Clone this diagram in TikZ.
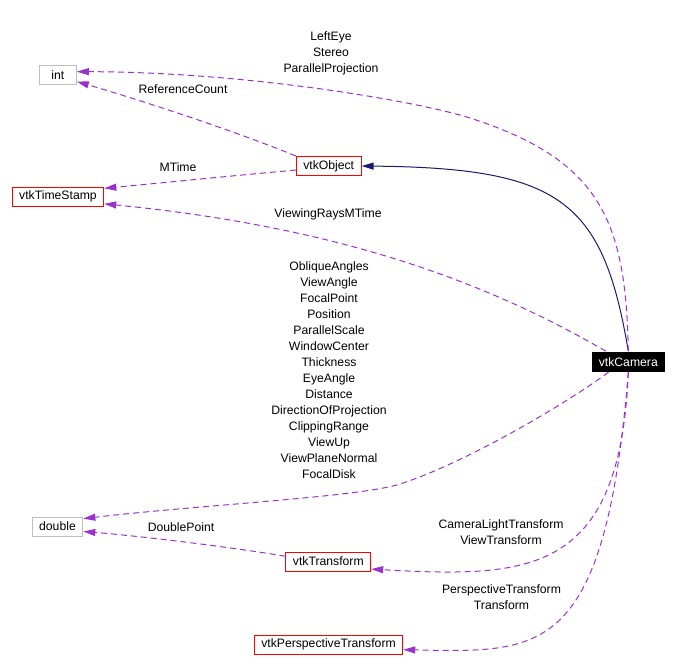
\documentclass[tikz,border=0pt]{standalone}
\usepackage{fontspec}
\setmainfont{Liberation Sans}
\usetikzlibrary{arrows.meta}
\definecolor{usepurple}{HTML}{9A32CD}
\definecolor{basenavy}{HTML}{191970}
\definecolor{boxgray}{HTML}{BFBFBF}
\begin{document}
\begin{tikzpicture}[
	x=1bp, y=-1bp,
	every node/.style={font=\fontsize{12.2bp}{16bp}\selectfont, text=black},
	cls/.style={draw=red, line width=1bp, minimum height=19bp, inner xsep=7bp, inner ysep=0pt},
	plain/.style={cls, draw=boxgray},
	focus/.style={cls, draw=none, fill=black, text=white, minimum height=20bp},
	lbl/.style={align=center, inner sep=0pt},
	uses/.style={draw=usepurple, line width=1bp, dash pattern=on 6bp off 4bp, -{Triangle[length=12bp, width=7bp]}},
	inherits/.style={draw=basenavy, line width=1bp, -{Triangle[length=12bp, width=7bp]}}
	]
	\useasboundingbox (0,0) rectangle (677,670);
	
	% classes
	\node[plain, minimum width=37bp] (int) at (57.8,75) {int};
	\node[cls] (obj) at (328.7,166) {vtkObject};
	\node[cls] (stamp) at (58,196.5) {vtkTimeStamp};
	\node[focus] (cam) at (628.3,361.7) {vtkCamera};
	\node[plain] (dbl) at (57.5,526.5) {double};
	\node[cls] (tr) at (328.3,561.5) {vtkTransform};
	\node[cls] (ptr) at (328.5,644.5) {vtkPerspectiveTransform};
	
	% base class
	\draw[inherits] (cam.north) .. controls (603,200) and (560,168) .. (obj.east);
	
	% members
	\draw[uses] (cam.north) .. controls (626,220) and (600,160) .. (470,118)
		.. controls (420,102) and (250,72) .. (int.10);
	\draw[uses] (obj.north west) .. controls (240,133) and (150,103) .. (int.341);
	\draw[uses] (obj.187) .. controls (230,176) and (160,183) .. (stamp.10);
	\draw[uses] (cam.155) .. controls (480,278) and (330,226) .. (stamp.351);
	\draw[uses] (cam.208) .. controls (560,408) and (460,465) .. (400,484)
		.. controls (360,497) and (200,505) .. (dbl.17);
	\draw[uses] (tr.173) .. controls (230,547) and (140,536) .. (dbl.349);
	\draw[uses] (cam.south) .. controls (620,575) and (530,578) .. (tr.350);
	\draw[uses] (cam.south) .. controls (605,660) and (540,652) .. (ptr.356);
	
	% member names
	\node[lbl] (lEye) at (331,53.5) {LeftEye\\Stereo\\ParallelProjection};
	\node[lbl] (lRef) at (183,89) {ReferenceCount};
	\node[lbl] (lMTime) at (178,167.5) {MTime};
	\node[lbl] (lRays) at (328,214) {ViewingRaysMTime};
	\node[lbl] (lDbl) at (329,370.2) {ObliqueAngles\\ViewAngle\\FocalPoint\\Position\\ParallelScale\\WindowCenter\\Thickness\\EyeAngle\\Distance\\DirectionOfProjection\\ClippingRange\\ViewUp\\ViewPlaneNormal\\FocalDisk};
	\node[lbl] (lPt) at (181,526.7) {DoublePoint};
	\node[lbl] (lView) at (501,531.9) {CameraLightTransform\\ViewTransform};
	\node[lbl] (lPersp) at (501.5,596.9) {PerspectiveTransform\\Transform};
	
\end{tikzpicture}
\end{document}
